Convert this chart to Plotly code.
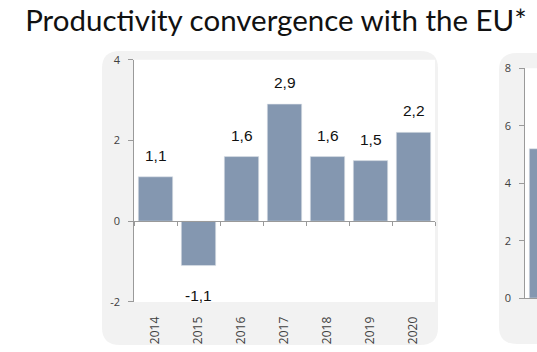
import plotly.graph_objects as go

# Productivity convergence, % points
years = ["2014", "2015", "2016", "2017", "2018", "2019", "2020"]
convergence = [1.1, -1.1, 1.6, 2.9, 1.6, 1.5, 2.2]

# second panel (only its first bar falls inside the page)
right_years = ["2014"]
right_values = [5.2]

left_ticks = [-2, 0, 2, 4]
right_ticks = [0, 2, 4, 6, 8]

W, H = 537, 352
BAR = "#8497b0"
AXIS = "#9a9a9a"
BOX = "#f2f2f2"
PAD = "\u00a0\u00a0"  # keeps tick labels clear of the tick marks


def px(x):
    return x / W


def py(y):
    return 1 - y / H


def rounded_box(x0, y0, x1, y1, r):
    """Rounded rectangle path in paper coordinates from pixel bounds."""
    pts = [
        f"M {px(x0 + r)} {py(y0)}",
        f"L {px(x1 - r)} {py(y0)}",
        f"Q {px(x1)} {py(y0)} {px(x1)} {py(y0 + r)}",
        f"L {px(x1)} {py(y1 - r)}",
        f"Q {px(x1)} {py(y1)} {px(x1 - r)} {py(y1)}",
        f"L {px(x0 + r)} {py(y1)}",
        f"Q {px(x0)} {py(y1)} {px(x0)} {py(y1 - r)}",
        f"L {px(x0)} {py(y0 + r)}",
        f"Q {px(x0)} {py(y0)} {px(x0 + r)} {py(y0)}",
        "Z",
    ]
    return " ".join(pts)


def fmt(v):
    return f"{v:.1f}".replace(".", ",")


fig = go.Figure()

fig.add_trace(go.Bar(
    x=years, y=convergence, xaxis="x", yaxis="y",
    marker=dict(color=BAR, line=dict(color="#dfe4ea", width=0.6)),
    width=0.8, hoverinfo="skip",
))
# carrier for the zero-line axis with boundary ticks
fig.add_trace(go.Scatter(
    x=years, y=convergence, xaxis="x3", yaxis="y", mode="none",
    hoverinfo="skip", showlegend=False,
))
fig.add_trace(go.Bar(
    x=right_years, y=right_values, xaxis="x2", yaxis="y2",
    marker=dict(color=BAR, line=dict(color="#dfe4ea", width=0.6)),
    width=0.8, hoverinfo="skip",
))

# value labels; category axes take the category index as position
label_font = dict(family="Liberation Sans, Arial, sans-serif", size=15.5, color="#111111")
annotations = []
for i, v in enumerate(convergence):
    annotations.append(dict(
        x=i, y=v, xref="x", yref="y", text=fmt(v), showarrow=False,
        yanchor="bottom" if v >= 0 else "top",
        yshift=11 if v >= 0 else -19, font=label_font,
    ))
for i, v in enumerate(right_values):
    annotations.append(dict(
        x=i, y=v, xref="x2", yref="y2", text=fmt(v), showarrow=False,
        yanchor="bottom", yshift=11, font=label_font,
    ))

tick_font = dict(family="Open Sans, sans-serif", size=11, color="#404040")
year_font = dict(family="Open Sans, sans-serif", size=12, color="#404040")

y_dom = [py(307), py(54)]
y_lo, y_hi = -2, 4
zero_pos = y_dom[0] + (0 - y_lo) / (y_hi - y_lo) * (y_dom[1] - y_dom[0])

axis_style = dict(
    showline=True, linecolor=AXIS, linewidth=1,
    ticks="outside", tickcolor=AXIS, tickwidth=1,
    showgrid=False, zeroline=False,
)

fig.update_layout(
    width=W, height=H,
    margin=dict(l=0, r=0, t=0, b=0),
    paper_bgcolor="white", plot_bgcolor="white",
    showlegend=False,
    bargap=0.2,
    title=dict(
        text="Productivity convergence with the EU*",
        x=px(276), xanchor="center", y=py(21), yanchor="middle",
        font=dict(family="Lato, sans-serif", size=29.5, color="#111111"),
    ),
    xaxis=dict(
        domain=[px(134), px(435)], anchor="y", type="category",
        range=[-0.5, len(years) - 0.5],
        showline=False, showgrid=False, zeroline=False,
        ticks="outside", ticklen=9, tickcolor="rgba(0,0,0,0)",
        tickangle=-90, tickfont=year_font,
    ),
    xaxis3=dict(
        overlaying="x", anchor="free", position=zero_pos, type="category",
        range=[-0.5, len(years) - 0.5],
        tickson="boundaries", ticklen=4, showticklabels=False,
        **axis_style,
    ),
    yaxis=dict(
        domain=y_dom, anchor="x", range=[y_lo, y_hi],
        tickvals=left_ticks, ticktext=[f"{t}{PAD}" for t in left_ticks],
        ticklen=5, tickfont=tick_font, **axis_style,
    ),
    xaxis2=dict(
        domain=[px(525), 1], anchor="y2", type="category",
        range=[-0.5, -0.5 + 12 / 43],
        tickson="boundaries", ticklen=4, showticklabels=False,
        **axis_style,
    ),
    yaxis2=dict(
        domain=[py(303), py(63)], anchor="x2", range=[0, 8],
        tickvals=right_ticks, ticktext=[f"{t}{PAD}" for t in right_ticks],
        ticklen=5, tickfont=tick_font, **axis_style,
    ),
    shapes=[
        dict(type="path", xref="paper", yref="paper", layer="below",
             path=rounded_box(102, 45, 438, 352, 18),
             fillcolor=BOX, line=dict(width=0)),
        dict(type="path", xref="paper", yref="paper", layer="below",
             path=rounded_box(499, 47, 700, 351, 18),
             fillcolor=BOX, line=dict(width=0)),
        # white plotting areas on top of the panels
        dict(type="rect", xref="x domain", yref="y domain", layer="below",
             x0=0, x1=1, y0=0, y1=1, fillcolor="white", line=dict(width=0)),
        dict(type="rect", xref="x2 domain", yref="y2 domain", layer="below",
             x0=0, x1=1, y0=0, y1=1, fillcolor="white", line=dict(width=0)),
    ],
    annotations=annotations,
)

fig.write_html("out.html")
